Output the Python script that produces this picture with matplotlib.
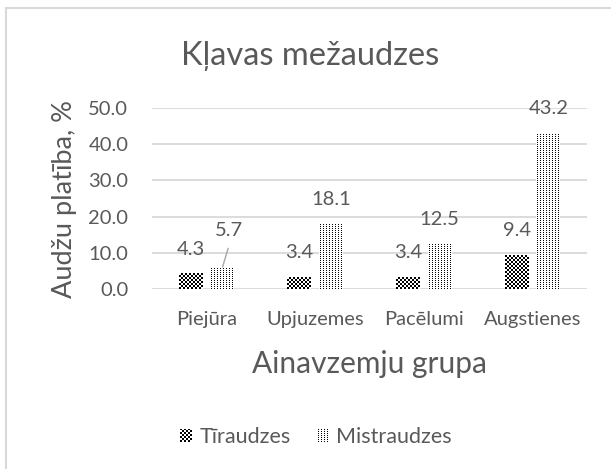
import matplotlib
matplotlib.use("Agg")
import matplotlib.pyplot as plt
import numpy as np
from matplotlib.patches import Rectangle

plt.rcParams['font.family'] = ['Lato', 'DejaVu Sans']

categories = ["Piejūra", "Upjuzemes", "Pacēlumi", "Augstienes"]
tiraudzes = [4.3, 3.4, 3.4, 9.4]
mistraudzes = [5.7, 18.1, 12.5, 43.2]
series_names = ["Tīraudzes", "Mistraudzes"]
yticks = [0, 10, 20, 30, 40, 50]

TXT = "#595959"
GRID = "#d9d9d9"


def checker(h, w):
    yy, xx = np.mgrid[0:h, 0:w]
    v = ((yy // 2 + xx // 2) % 2).astype(float)
    return np.dstack([v, v, v, np.ones_like(v)])


def dots(h, w):
    yy, xx = np.mgrid[0:h, 0:w]
    v = np.ones((h, w))
    v[(xx % 3 == 1) & (yy % 2 == 0)] = 0.0
    return np.dstack([v, v, v, np.ones_like(v)])


fig = plt.figure(figsize=(6.11, 4.69), dpi=100)
ax = fig.add_axes([152/611, 1-289/469, 435/611, 181/469])

x = np.arange(len(categories))
w = 0.22
off = 0.145
b1 = ax.bar(x - off, tiraudzes, w, color="white", linewidth=0)
b2 = ax.bar(x + off, mistraudzes, w, color="white", linewidth=0)

ax.set_xlim(-0.5, len(categories) - 0.5)
ax.set_ylim(0, 50)
ax.set_yticks(yticks)
ax.set_yticklabels([f"{v:.1f}" for v in yticks])
ax.set_xticks(x)
ax.set_xticklabels(categories)
ax.tick_params(length=0, colors=TXT, labelsize=14.5)
ax.tick_params(axis='y', pad=17)
ax.tick_params(axis='x', pad=16)
for s in ax.spines.values():
    s.set_visible(False)
ax.grid(axis='y', color=GRID, linewidth=1.3)
ax.set_axisbelow(True)

# data labels
for bars, vals in ((b1, tiraudzes), (b2, mistraudzes)):
    for i, (r, v) in enumerate(zip(bars, vals)):
        xc = r.get_x() + r.get_width()/2
        dx, dy = (0, 24)
        if bars is b2 and i == 0:
            dx, dy = (7, 38)
        ax.annotate(f"{v:.1f}", (xc, v), xytext=(dx*0.72, dy*0.72), textcoords="offset points",
                    ha="center", va="center", color=TXT, fontsize=14.5)
r = b2[0]
ax.annotate("", (r.get_x() + r.get_width()/2, mistraudzes[0]), xytext=(6*0.72, 20*0.72),
            textcoords="offset points",
            arrowprops=dict(arrowstyle="-", color="#a6a6a6", lw=1, shrinkA=0, shrinkB=1))

ax.set_ylabel("Audžu platība, %", color=TXT, fontsize=19.5, labelpad=8)
ax.set_xlabel("Ainavzemju grupa", color=TXT, fontsize=21.5, labelpad=16)

fig.text(310/611, 1-56/469, "Kļavas mežaudzes", ha="center", va="center", color=TXT, fontsize=23.5)

h1 = Rectangle((0, 0), 1, 1, facecolor="none", edgecolor="none")
h2 = Rectangle((0, 0), 1, 1, facecolor="none", edgecolor="none")
leg = fig.legend([h1, h2], series_names, loc="center", bbox_to_anchor=(316/611, 1-437/469),
                 ncol=2, frameon=False, fontsize=15.5, labelcolor=TXT, handlelength=0.55,
                 handleheight=0.55, columnspacing=1.2, handletextpad=0.35)

fig.patches.append(Rectangle((6/611, -0.1), 1.2, 1.1 - 8/469, transform=fig.transFigure,
                             fill=False, edgecolor=GRID, linewidth=1.5))

# pixel textures for bars and legend keys
fig.canvas.draw()
for bars, pat in ((b1, checker), (b2, dots)):
    for r in bars:
        bb = r.get_window_extent()
        x0, x1 = int(round(bb.x0)), int(round(bb.x1))
        y0, y1 = int(round(bb.y0)), int(round(bb.y1))
        if x1 > x0 and y1 > y0:
            fig.figimage(pat(y1 - y0, x1 - x0), xo=x0, yo=y0, origin="lower", zorder=1)
for hnd, pat in zip(leg.legend_handles, (checker, dots)):
    bb = hnd.get_window_extent()
    x0, x1 = int(round(bb.x0)), int(round(bb.x1))
    y0, y1 = int(round(bb.y0)), int(round(bb.y1))
    fig.figimage(pat(y1 - y0, x1 - x0), xo=x0, yo=y0, origin="lower", zorder=10)

fig.savefig("out.png", dpi=100)
